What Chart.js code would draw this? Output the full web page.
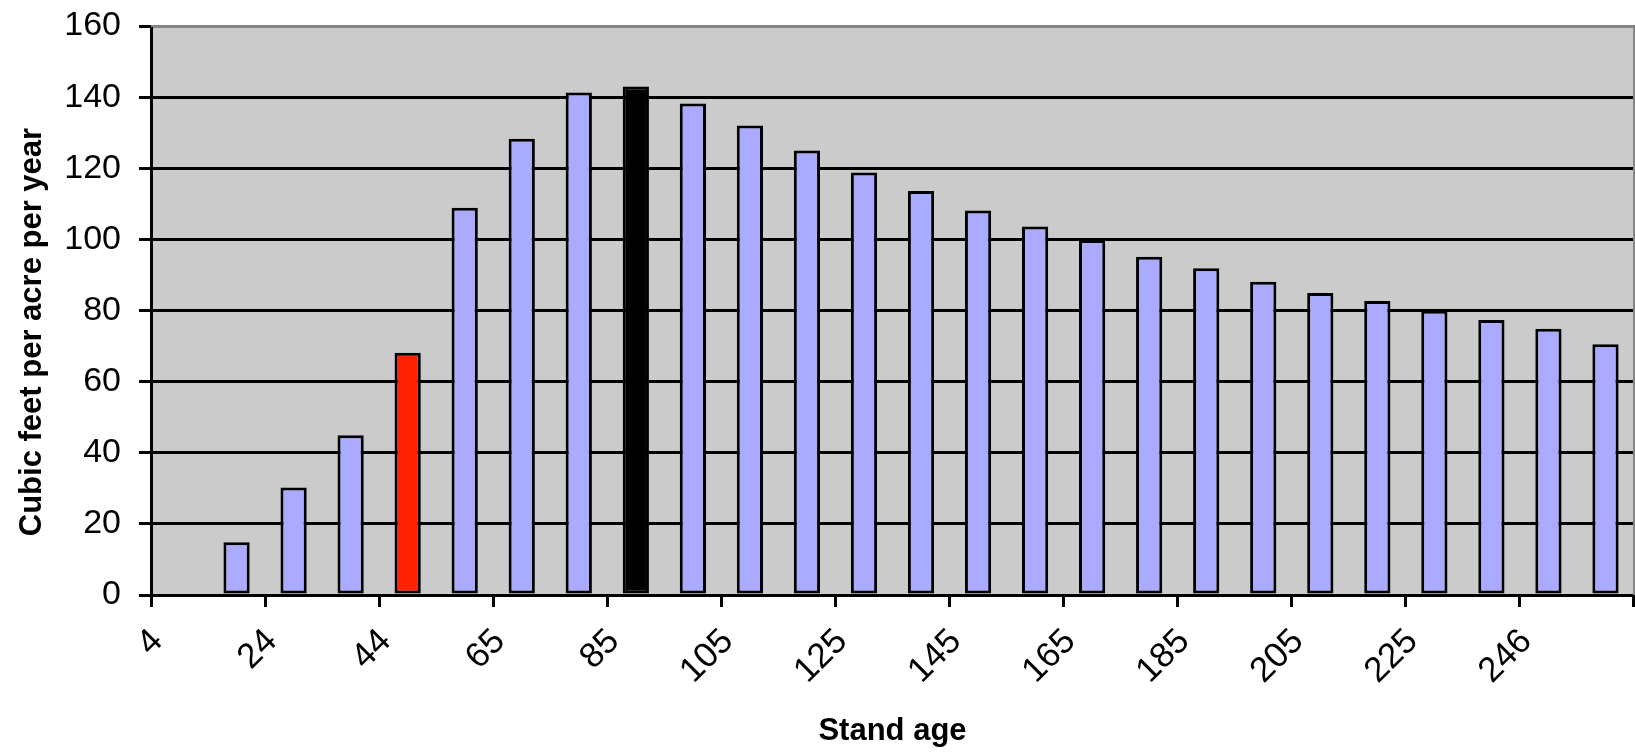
<!DOCTYPE html>
<html>
<head>
  <title>Stand age chart</title>
  <style>
    body {
      margin: 0;
      padding: 0;
      background-color: #fff;
    }

    #wrap {
      width: 1635px;
      height: 752px;
      position: relative;
    }
  </style>
</head>
<body>

<div id="wrap">
  <canvas id="myChart"></canvas>
</div>

<script src="https://cdn.jsdelivr.net/npm/chart.js"></script>
<script>
  // stand ages (every other one is shown on the axis)
  const standAges = ['4', '14', '24', '34', '44', '55', '65', '75', '85', '95', '105', '115', '125',
    '135', '145', '155', '165', '175', '185', '195', '205', '215', '225', '235', '246', '256'];

  // cubic feet per acre per year
  const growth = [null, 14.8, 30.2, 44.9, 68.1, 108.9, 128.3, 141.3, 143.0, 138.2, 132.0, 125.0, 118.8,
    113.6, 108.1, 103.6, 99.8, 95.1, 91.9, 88.1, 84.9, 82.7, 79.9, 77.3, 74.9, 70.5];

  const yTicks = [0, 20, 40, 60, 80, 100, 120, 140, 160];

  const redAge = '44';
  const blackAge = '85';

  const fontFamily = "'Liberation Sans', Arial, sans-serif";

  function barColor(age) {
    if (age === redAge) return '#ff2200';
    if (age === blackAge) return '#000000';
    return '#aaaaff';
  }

  // grey plot background with the thin grey frame on top and right
  const plotFrame = {
    id: 'plotFrame',
    beforeDraw(chart) {
      const a = chart.chartArea;
      const ctx = chart.ctx;
      ctx.save();
      ctx.fillStyle = '#cbcbcb';
      ctx.fillRect(a.left, a.top, a.right - a.left, a.bottom - a.top);
      ctx.restore();
    },
    afterDatasetsDraw(chart) {
      const a = chart.chartArea;
      const ctx = chart.ctx;
      ctx.save();
      ctx.strokeStyle = '#858585';
      ctx.lineWidth = 2;
      ctx.beginPath();
      ctx.moveTo(a.left, a.top);
      ctx.lineTo(a.right, a.top);
      ctx.lineTo(a.right, a.bottom);
      ctx.stroke();
      ctx.restore();
    }
  };

  const ctx = document.getElementById('myChart').getContext('2d');
  const myChart = new Chart(ctx, {
    type: 'bar',
    data: {
      labels: standAges,
      datasets: [{
        label: 'Growth',
        data: growth,
        backgroundColor: standAges.map(barColor),
        borderColor: '#000000',
        borderWidth: 3,
        borderSkipped: false,
        categoryPercentage: 1.0,
        barPercentage: 0.46
      }]
    },
    options: {
      responsive: true,
      maintainAspectRatio: false,
      animation: false,
      devicePixelRatio: 1,
      layout: {
        padding: { left: 0, top: 26, right: 1, bottom: 0 }
      },
      plugins: {
        legend: { display: false },
        tooltip: { enabled: false }
      },
      scales: {
        x: {
          offset: true,
          grid: {
            offset: true,
            drawOnChartArea: false,
            drawTicks: true,
            tickLength: 12,
            lineWidth: 3,
            color: (c) => (c.index === undefined || c.index % 2 === 0) ? '#000000' : 'rgba(0,0,0,0)'
          },
          border: { color: '#000000', width: 3 },
          ticks: {
            autoSkip: false,
            maxRotation: 45,
            minRotation: 45,
            padding: 14,
            labelOffset: -22,
            color: '#000000',
            font: { family: fontFamily, size: 35 },
            callback: function (val, i) {
              return i % 2 === 0 ? this.getLabelForValue(val) : '';
            }
          },
          title: {
            display: true,
            text: 'Stand age',
            color: '#000000',
            font: { family: fontFamily, size: 31, weight: 'bold' },
            padding: { top: 0, bottom: 2 }
          },
          afterFit: (scale) => {
            scale.height = 157;
            scale.paddingLeft = 0;
            scale.paddingRight = 0;
          }
        },
        y: {
          min: 0,
          max: 160,
          afterBuildTicks: (scale) => { scale.ticks = yTicks.map(v => ({ value: v })); },
          grid: {
            drawTicks: true,
            tickLength: 12,
            lineWidth: 3,
            tickColor: '#000000',
            color: (c) => c.tick && c.tick.value === 160 ? '#858585' : '#000000'
          },
          border: { color: '#000000', width: 3 },
          ticks: {
            padding: 18,
            color: '#000000',
            font: { family: fontFamily, size: 34 }
          },
          title: {
            display: true,
            // trailing spaces nudge the title a bit lower, as in the original
            text: 'Cubic feet per acre per year\u00A0\u00A0\u00A0\u00A0\u00A0',
            color: '#000000',
            font: { family: fontFamily, size: 31, weight: 'bold' },
            padding: { top: 14, bottom: 0 }
          },
          afterFit: (scale) => {
            scale.width = 151;
            scale.paddingTop = 0;
            scale.paddingBottom = 0;
          }
        }
      }
    },
    plugins: [plotFrame]
  });
</script>
</body>
</html>
